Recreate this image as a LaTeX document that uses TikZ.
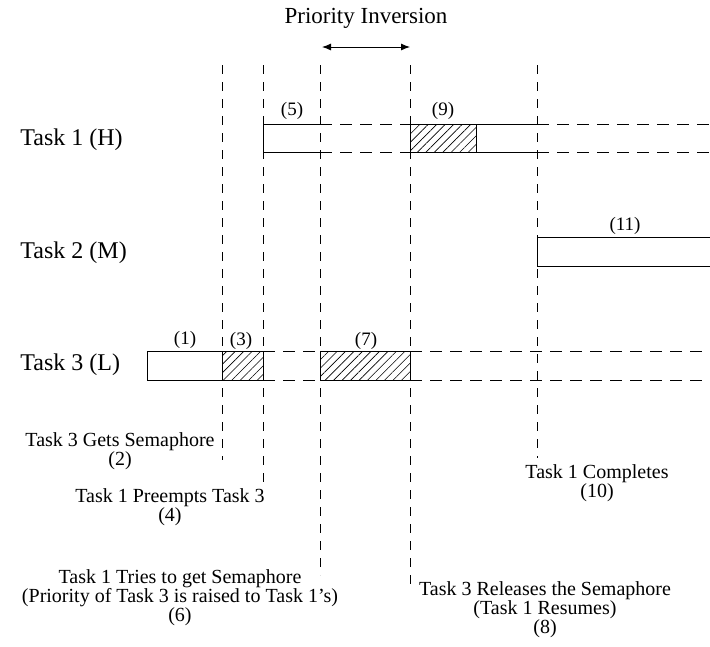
\documentclass[tikz,border=0pt]{standalone}
\usepackage{fontspec}
\setmainfont{Liberation Serif}
\usepackage{tikz}
\usetikzlibrary{positioning}
\usetikzlibrary{patterns.meta}
\usetikzlibrary{arrows.meta}
\usetikzlibrary{calc}

\begin{document}
\begin{tikzpicture}[x=1pt,y=-1pt,line width=0.9pt,
  tasklbl/.style={font=\fontsize{24}{28}\selectfont, inner sep=0pt},
  seglbl/.style={font=\fontsize{19}{22}\selectfont, inner sep=0pt},
  evtlbl/.style={font=\fontsize{20}{19}\selectfont, align=center, inner sep=0pt},
  tline/.style={dash pattern=on 9pt off 8pt, line width=0.8pt},
  idle/.style={dash pattern=on 12pt off 8pt, line width=0.8pt},
  hatch/.style={draw, pattern={Lines[angle=45,distance=6pt,line width=0.6pt]}}]
 \useasboundingbox (0,0) rectangle (710,646);

 \node (title) at (366,18) [font=\fontsize{23}{27}\selectfont] { Priority Inversion };

 \node (task1) at (20,140) [tasklbl, anchor=west] { Task 1 (H) };
 \node (task2) [tasklbl, below=113pt of task1.west, anchor=west] { Task 2 (M) };
 \node (task3) [tasklbl, below=112pt of task2.west, anchor=west] { Task 3 (L) };

 \coordinate (e2) at (222,65);
 \coordinate (e4) at (263,65);
 \coordinate (e6) at (320,65);
 \coordinate (e8) at (410,65);
 \coordinate (e10) at (537,65);

 \coordinate (e2b) at (222,460);
 \coordinate (e4b) at (263,488);
 \coordinate (e6b) at (320,575);
 \coordinate (e8b) at (410,590);
 \coordinate (e10b) at (537,458);

 \draw [tline] (e2) -- (e2b);
 \draw [tline] (e4) -- (e4b);
 \draw [tline] (e6) -- (e6b);
 \draw [tline] (e8) -- (e8b);
 \draw [tline] (e10) -- (e10b);

 \coordinate (inv-l) at ($ (e6) + (2,-18) $);
 \coordinate (inv-r) at ($ (e8) + (0,-18) $);
 \draw [{Latex[length=9pt,width=7pt]}-{Latex[length=9pt,width=7pt]}] (inv-l) -- (inv-r);

 \draw (320,124) -- (263,124) -- (263,152) -- (320,152);
 \draw [idle] (320,124) -- (410,124) (320,152) -- (410,152);
 \draw [hatch] (410,124) rectangle (476,152);
 \draw (476,124) -- (537,124) (476,152) -- (537,152);
 \draw [idle] (537,124) -- (710,124) (537,152) -- (710,152);

 \draw (710,237) -- (537,237) -- (537,266) -- (710,266);

 \draw (222,351) -- (147,351) -- (147,380) -- (222,380);
 \draw [hatch] (222,351) rectangle (263,380);
 \draw [idle] (263,351) -- (320,351) (263,380) -- (320,380);
 \draw [hatch] (320,351) rectangle (410,380);
 \draw [idle] (410,351) -- (710,351) (410,380) -- (710,380);

 \node (s1) at (185,340) [seglbl] { (1) };
 \node (s3) at (241,341) [seglbl] { (3) };
 \node (s5) at (292,111) [seglbl] { (5) };
 \node (s7) at (366,341) [seglbl] { (7) };
 \node (s9) at (443,111) [seglbl] { (9) };
 \node (s11) at (625,226) [seglbl] { (11) };

 \node (gets) at (120,451) [evtlbl] { Task 3 Gets Semaphore\\(2) };
 \node (preempts) at (170,507) [evtlbl] { Task 1 Preempts Task 3\\(4) };
 \node (completes) at (597,483) [evtlbl] { Task 1 Completes\\(10) };
 \node (tries) at (180,598) [evtlbl] { Task 1 Tries to get Semaphore\\(Priority of Task 3 is raised to Task 1's)\\(6) };
 \node (releases) at (545,610) [evtlbl] { Task 3 Releases the Semaphore\\(Task 1 Resumes)\\(8) };
\end{tikzpicture}
\end{document}
